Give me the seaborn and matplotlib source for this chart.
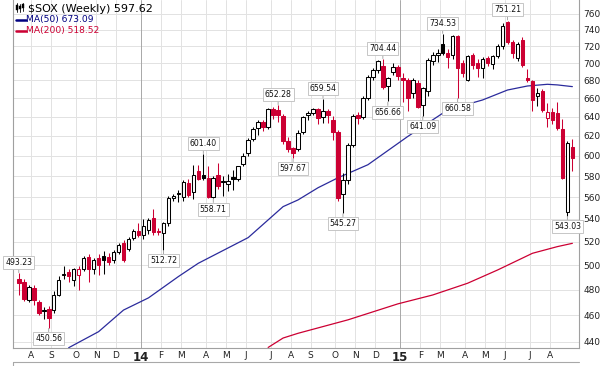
import numpy as np
import pandas as pd
import matplotlib
matplotlib.use("Agg")
import matplotlib.pyplot as plt
import seaborn as sns
from matplotlib.lines import Line2D
from matplotlib.patches import Rectangle

sns.set_theme(style="white")
plt.rcParams["font.family"] = ["DejaVu Sans"]

# weekly bars of $SOX (one bar per week, dated by the Monday)
dates = pd.date_range("2013-07-15", periods=112, freq="W-MON")

opens = [489, 486.5, 472, 481, 470, 463, 465, 464, 476, 492,
         494.5, 488, 492, 497, 506.6, 497, 506, 508, 507, 504.4,
         511, 519, 514, 523, 529.6, 526, 530, 541, 529.5, 527.6,
         536, 559, 563.5, 560, 573, 565, 585, 580.6, 578, 560.5,
         580.6, 574, 572, 579, 577, 592, 602.5, 617, 628, 635,
         629, 649, 647, 641, 615, 607.5, 607, 624.5, 641.5, 644.5,
         648, 640, 646, 636.5, 624.5, 563, 576, 611, 641.5, 640,
         661, 684, 692, 697, 673.5, 689.5, 696, 683, 680.5, 666,
         677, 652.5, 668, 702, 710, 722, 712, 710, 732, 700,
         680, 710, 700, 694.5, 706, 699.5, 708.5, 720, 750, 725,
         706, 727, 683, 679, 663, 668, 639, 645.5, 644, 627,
         546, 608.5]
highs = [493.23, 489, 484, 484, 472, 466, 467, 479, 491, 499,
         497, 498, 499, 508, 509, 506, 509, 512, 510, 513,
         519, 521, 524, 531, 536, 539.6, 541, 549, 532, 537,
         561, 563, 567, 576, 577, 591, 591, 601.40, 590, 580,
         593, 580, 582, 586, 590, 603, 618, 629, 637, 637,
         650, 651, 652.28, 643, 619, 609, 626, 641, 646, 650,
         650, 659.54, 648, 641, 626, 583, 613, 643, 645, 663,
         686, 694, 704, 704.44, 684, 700, 698, 688, 683, 683,
         681, 673, 706, 713, 716, 734.53, 716, 733.5, 733, 704,
         710, 712, 705, 707, 708, 710, 723, 748, 751.21, 727,
         725, 731, 693, 681, 671, 670, 655, 650, 656, 638,
         614.5, 617]
lows = [476, 471, 470, 468, 460, 457, 450.56, 462, 475, 489,
        486, 483, 480, 495, 486.5, 493, 492, 493, 500, 502,
        509, 503, 512, 521, 524, 522, 527, 526, 526, 512.72,
        534, 556, 555, 556, 560, 558, 576, 576, 559.5, 558.71,
        568, 561, 566, 567, 575, 590, 600, 615, 621, 625,
        627, 638, 635, 612, 604, 597.67, 605, 622, 637, 642,
        633, 634, 634, 616, 556, 545.27, 572, 609, 633, 638,
        658, 680, 688, 670, 656.66, 686, 681, 656, 646, 661,
        650, 641.09, 663, 698, 701, 709, 694, 705, 660.58, 684,
        679, 693, 684, 683, 697, 693, 706, 716, 722, 706,
        703, 696, 678, 646, 652, 645, 629, 633, 626, 577,
        543.03, 585]
closes = [485, 473, 482, 472, 462, 464, 458, 475.5, 488, 493,
          491, 497, 496.5, 506, 497, 504.4, 500, 504, 503, 511,
          517.3, 504, 522, 529, 526, 534, 539, 528.6, 528.4, 536,
          559, 561, 563, 574, 562, 581, 577.3, 578.5, 560, 578,
          570.5, 575, 575.5, 577, 589.5, 600, 615.5, 627, 635, 629,
          648.5, 642, 641.5, 615, 607, 603, 623, 640, 644, 648,
          639, 646.5, 641.5, 624, 559, 576, 611, 641, 638.5, 660.5,
          684, 692, 703, 673, 682.5, 696, 685, 681, 661, 680.5,
          651, 671.5, 704, 710, 712, 712, 707, 732, 694.5, 689,
          708.5, 697.5, 694.5, 705, 700.5, 708.5, 720, 745, 725, 712,
          723, 697.5, 681, 658, 666.5, 647, 645.5, 636.5, 628.5, 578,
          613, 597.62]

# moving averages (bar index, value)
ma50_idx = [10, 16, 21, 26, 32, 36, 46, 53, 56, 60, 64, 70, 78, 86, 93, 98, 102, 106, 108, 111]
ma50_val = [435.8, 447.6, 464, 473.5, 490.6, 501.6, 523.5, 551.2, 557.4, 568.8,
            578.3, 591, 619.5, 647.5, 658.3, 669.3, 673.8, 675.7, 675, 673.09]
ma200_idx = [50, 53, 56, 66, 76, 83, 90, 96, 103, 108, 111]
ma200_val = [436, 442.9, 446.4, 456.5, 468.8, 475.8, 485.2, 496, 510, 515.7, 518.52]

# labelled swing highs / lows
mark_idx = [0, 6, 29, 37, 39, 52, 55, 61, 65, 73, 74, 81, 85, 88, 98, 110]
mark_val = [493.23, 450.56, 512.72, 601.40, 558.71, 652.28, 597.67, 659.54,
            545.27, 704.44, 656.66, 641.09, 734.53, 660.58, 751.21, 543.03]
mark_side = ["hi", "lo", "lo", "hi", "lo", "hi", "lo", "hi",
             "lo", "hi", "lo", "lo", "hi", "lo", "hi", "lo"]

RED = "#cc0033"
BLUE = "#2b2b9c"
W, H = 606, 366

fig = plt.figure(figsize=(W / 100, H / 100), dpi=100)
ax = fig.add_axes([13 / W, 18 / H, 566 / W, 348 / H])
ax.set_yscale("log")
ax.set_ylim(435.6, 777.5)
ax.set_xlim(-1.16, 112.33)

# price grid + right axis labels
yt = list(range(440, 761, 20))
ax.set_yticks(yt)
ax.set_yticklabels([str(v) for v in yt])
ax.yaxis.set_minor_locator(matplotlib.ticker.NullLocator())
ax.yaxis.tick_right()
ax.tick_params(axis="y", length=0, pad=3, labelsize=6.5, labelcolor="#222222")
for v in yt:
    ax.axhline(v, color="#e2e2e2", lw=0.7, zorder=0)

# month grid: line before the first bar of each month
initials = {1: "", 2: "F", 3: "M", 4: "A", 5: "M", 6: "J", 7: "J", 8: "A",
            9: "S", 10: "O", 11: "N", 12: "D"}
mpos, mlab, myear = [], [], []
for j in range(1, len(dates)):
    if dates[j].month != dates[j - 1].month:
        mpos.append(j - 0.5)
        if dates[j].month == 1:
            mlab.append(str(dates[j].year)[2:])
            myear.append(True)
        else:
            mlab.append(initials[dates[j].month])
            myear.append(False)
for p, yr in zip(mpos, myear):
    ax.axvline(p, color="#a8a8a8" if yr else "#e2e2e2", lw=0.7, zorder=0)
ax.set_xticks(mpos)
ax.set_xticklabels(mlab)
ax.tick_params(axis="x", length=0, pad=2, labelsize=6.5, labelcolor="#222222")
for t, yr in zip(ax.get_xticklabels(), myear):
    if yr:
        t.set_fontweight("bold")
        t.set_fontsize(8.5)

for s in ["left", "right", "bottom"]:
    ax.spines[s].set_color("#a0a0a0")
    ax.spines[s].set_linewidth(0.8)
ax.spines["top"].set_visible(False)

# moving averages
sns.lineplot(x=ma50_idx, y=ma50_val, ax=ax, color=BLUE, lw=0.9, zorder=1)
sns.lineplot(x=ma200_idx, y=ma200_val, ax=ax, color=RED, lw=0.9, zorder=1)

# candles
o = np.array(opens); h = np.array(highs); l = np.array(lows); c = np.array(closes)
x = np.arange(len(o))
prev = np.r_[o[0] + 1, c[:-1]]
col = np.where(c < prev, RED, "black")
filled = c < o
bot = np.minimum(o, c)
top = np.maximum(o, c)
ax.vlines(x, l, h, colors=col, lw=0.75, zorder=2)
ax.bar(x, top - bot, bottom=bot, width=0.72, color=np.where(filled, col, "white"),
       edgecolor=col, linewidth=0.75, zorder=3)

# callouts
for j, v, s in zip(mark_idx, mark_val, mark_side):
    hi = s == "hi"
    ax.annotate(f"{v:.2f}", xy=(j, v), xytext=(0, 4.5 if hi else -4.5),
                textcoords="offset points", ha="center",
                va="bottom" if hi else "top", fontsize=5.6, color="#111111",
                bbox=dict(boxstyle="square,pad=0.25", fc="white", ec="#bdbdbd", lw=0.6),
                arrowprops=dict(arrowstyle="-", color="#9a9a9a", lw=0.6, shrinkA=0, shrinkB=0.5),
                zorder=6, annotation_clip=False)

# legend block, top left
def fx(px):
    return px / W


def fy(py):
    return 1 - py / H


for px, y0, y1, b0, b1 in [(16.5, 3, 12, 5, 10), (19.5, 4, 12, 6, 9), (22.5, 3, 11, 4, 8)]:
    fig.add_artist(Line2D([fx(px)] * 2, [fy(y0), fy(y1)], color="black", lw=0.6))
    fig.add_artist(Rectangle((fx(px - 1), fy(b1)), 2 / W, (b1 - b0) / H, fc="black", ec="black", lw=0.3))
fig.text(fx(28), fy(8.5), "$SOX (Weekly) 597.62", fontsize=8, color="black", va="center")
fig.add_artist(Line2D([fx(16), fx(26)], [fy(19.5)] * 2, color="#000080", lw=1.8))
fig.text(fx(26.5), fy(19.5), "MA(50) 673.09", fontsize=6.6, color="#000080", va="center")
fig.add_artist(Line2D([fx(16), fx(26)], [fy(30.8)] * 2, color=RED, lw=1.8))
fig.text(fx(26.5), fy(30.8), "MA(200) 518.52", fontsize=6.6, color=RED, va="center")

# top edge of the next panel
fig.add_artist(Line2D([fx(13), fx(579)], [fy(362)] * 2, color="#a8a8a8", lw=0.8))
fig.add_artist(Line2D([fx(13), fx(13)], [fy(362), 0], color="#a8a8a8", lw=0.8))

fig.savefig("out.png", dpi=100)
